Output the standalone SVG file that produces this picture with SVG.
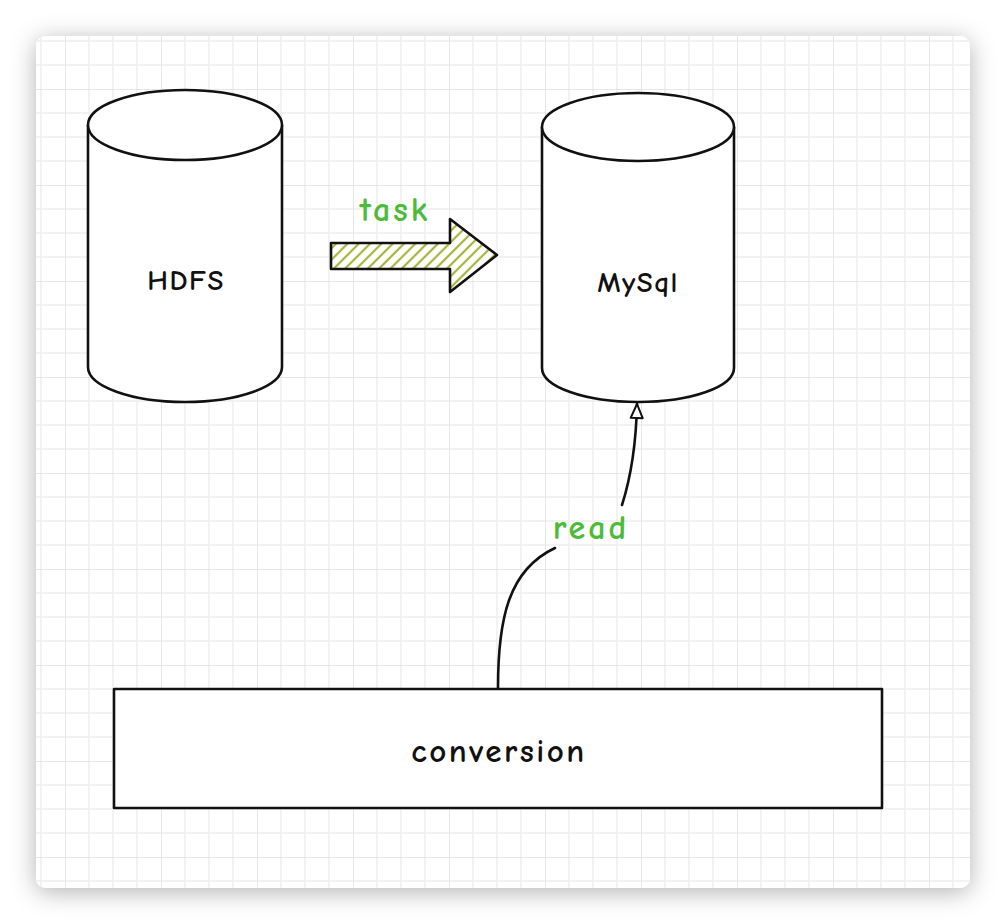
<svg xmlns="http://www.w3.org/2000/svg" width="1006" height="924" viewBox="0 0 1006 924">
<style>
.ink{fill:none;stroke:#111;stroke-width:2.6;stroke-linecap:round;stroke-linejoin:round}
.body{fill:#fff;stroke:#111;stroke-width:2.6;stroke-linejoin:round}
.lbl{font-family:"Comic Sans MS","Comic Neue","Noto Sans",sans-serif;text-anchor:middle;dominant-baseline:central}
.node{font-size:29px;fill:#111;font-weight:600;letter-spacing:1.5px}
.edge{font-size:34px;fill:#4dbb3a;font-weight:600;letter-spacing:3px}
</style>
<defs>
<filter id="sh" x="-10%" y="-10%" width="120%" height="120%">
<feDropShadow dx="0" dy="4" stdDeviation="12" flood-color="#000" flood-opacity="0.3"/>
</filter>
<pattern id="grid" patternUnits="userSpaceOnUse" x="65" y="89" width="96" height="96">
<path d="M24 0V96M48 0V96M72 0V96M0 24H96M0 48H96M0 72H96" stroke="#eeeeee" stroke-width="1.5"/>
<path d="M0 0V96M0 0H96" stroke="#dedede" stroke-width="1.5"/>
</pattern>
<pattern id="hatch" patternUnits="userSpaceOnUse" width="8" height="8" patternTransform="rotate(45)">
<rect width="8" height="8" fill="#fff"/>
<line x1="2" y1="0" x2="2" y2="8" stroke="#a9b43c" stroke-width="2.2"/>
</pattern>
<marker id="open" markerWidth="24" markerHeight="24" viewBox="-18 -12 24 24" refX="0" refY="0" orient="auto" markerUnits="userSpaceOnUse">
<path d="M0 0L-14 -6L-14 6Z" fill="#fff" stroke="#111" stroke-width="2" stroke-linejoin="round"/>
</marker>
</defs>
<rect width="1006" height="924" fill="#fff"/>
<rect x="36" y="36" width="934" height="852" rx="10" fill="#fff" filter="url(#sh)"/>
<rect x="36" y="36" width="934" height="852" rx="10" fill="url(#grid)"/>

<g id="hdfs">
<path class="body" d="M88 125V367A97 35 0 0 0 282 367V125"/>
<ellipse class="body" cx="185" cy="125" rx="97" ry="35"/>
<text class="lbl node" x="186" y="280">HDFS</text>
</g>

<g id="mysql">
<path class="body" d="M542 127V368A96 34 0 0 0 734 368V127"/>
<ellipse class="body" cx="638" cy="127" rx="96" ry="34"/>
<text class="lbl node" x="638" y="282">MySql</text>
</g>

<g id="conversion">
<rect class="body" x="114" y="689" width="768" height="119"/>
<text class="lbl" x="499" y="751" font-size="33" font-weight="bold" fill="#111" letter-spacing="2.5">conversion</text>
</g>

<g id="connectors">
<g id="task">
<path d="M331 243H450V219L497 255L450 292V269H331Z" fill="url(#hatch)" stroke="#111" stroke-width="2.6" stroke-linejoin="round"/>
<text class="lbl edge" x="395" y="210">task</text>
</g>
<g id="read">
<path class="ink" d="M498 688C498 620 508 570 555 548"/>
<path class="ink" d="M622 505C630 480 636 450 637 404" marker-end="url(#open)"/>
<text class="lbl edge" x="591" y="528">read</text>
</g>
</g>
</svg>
